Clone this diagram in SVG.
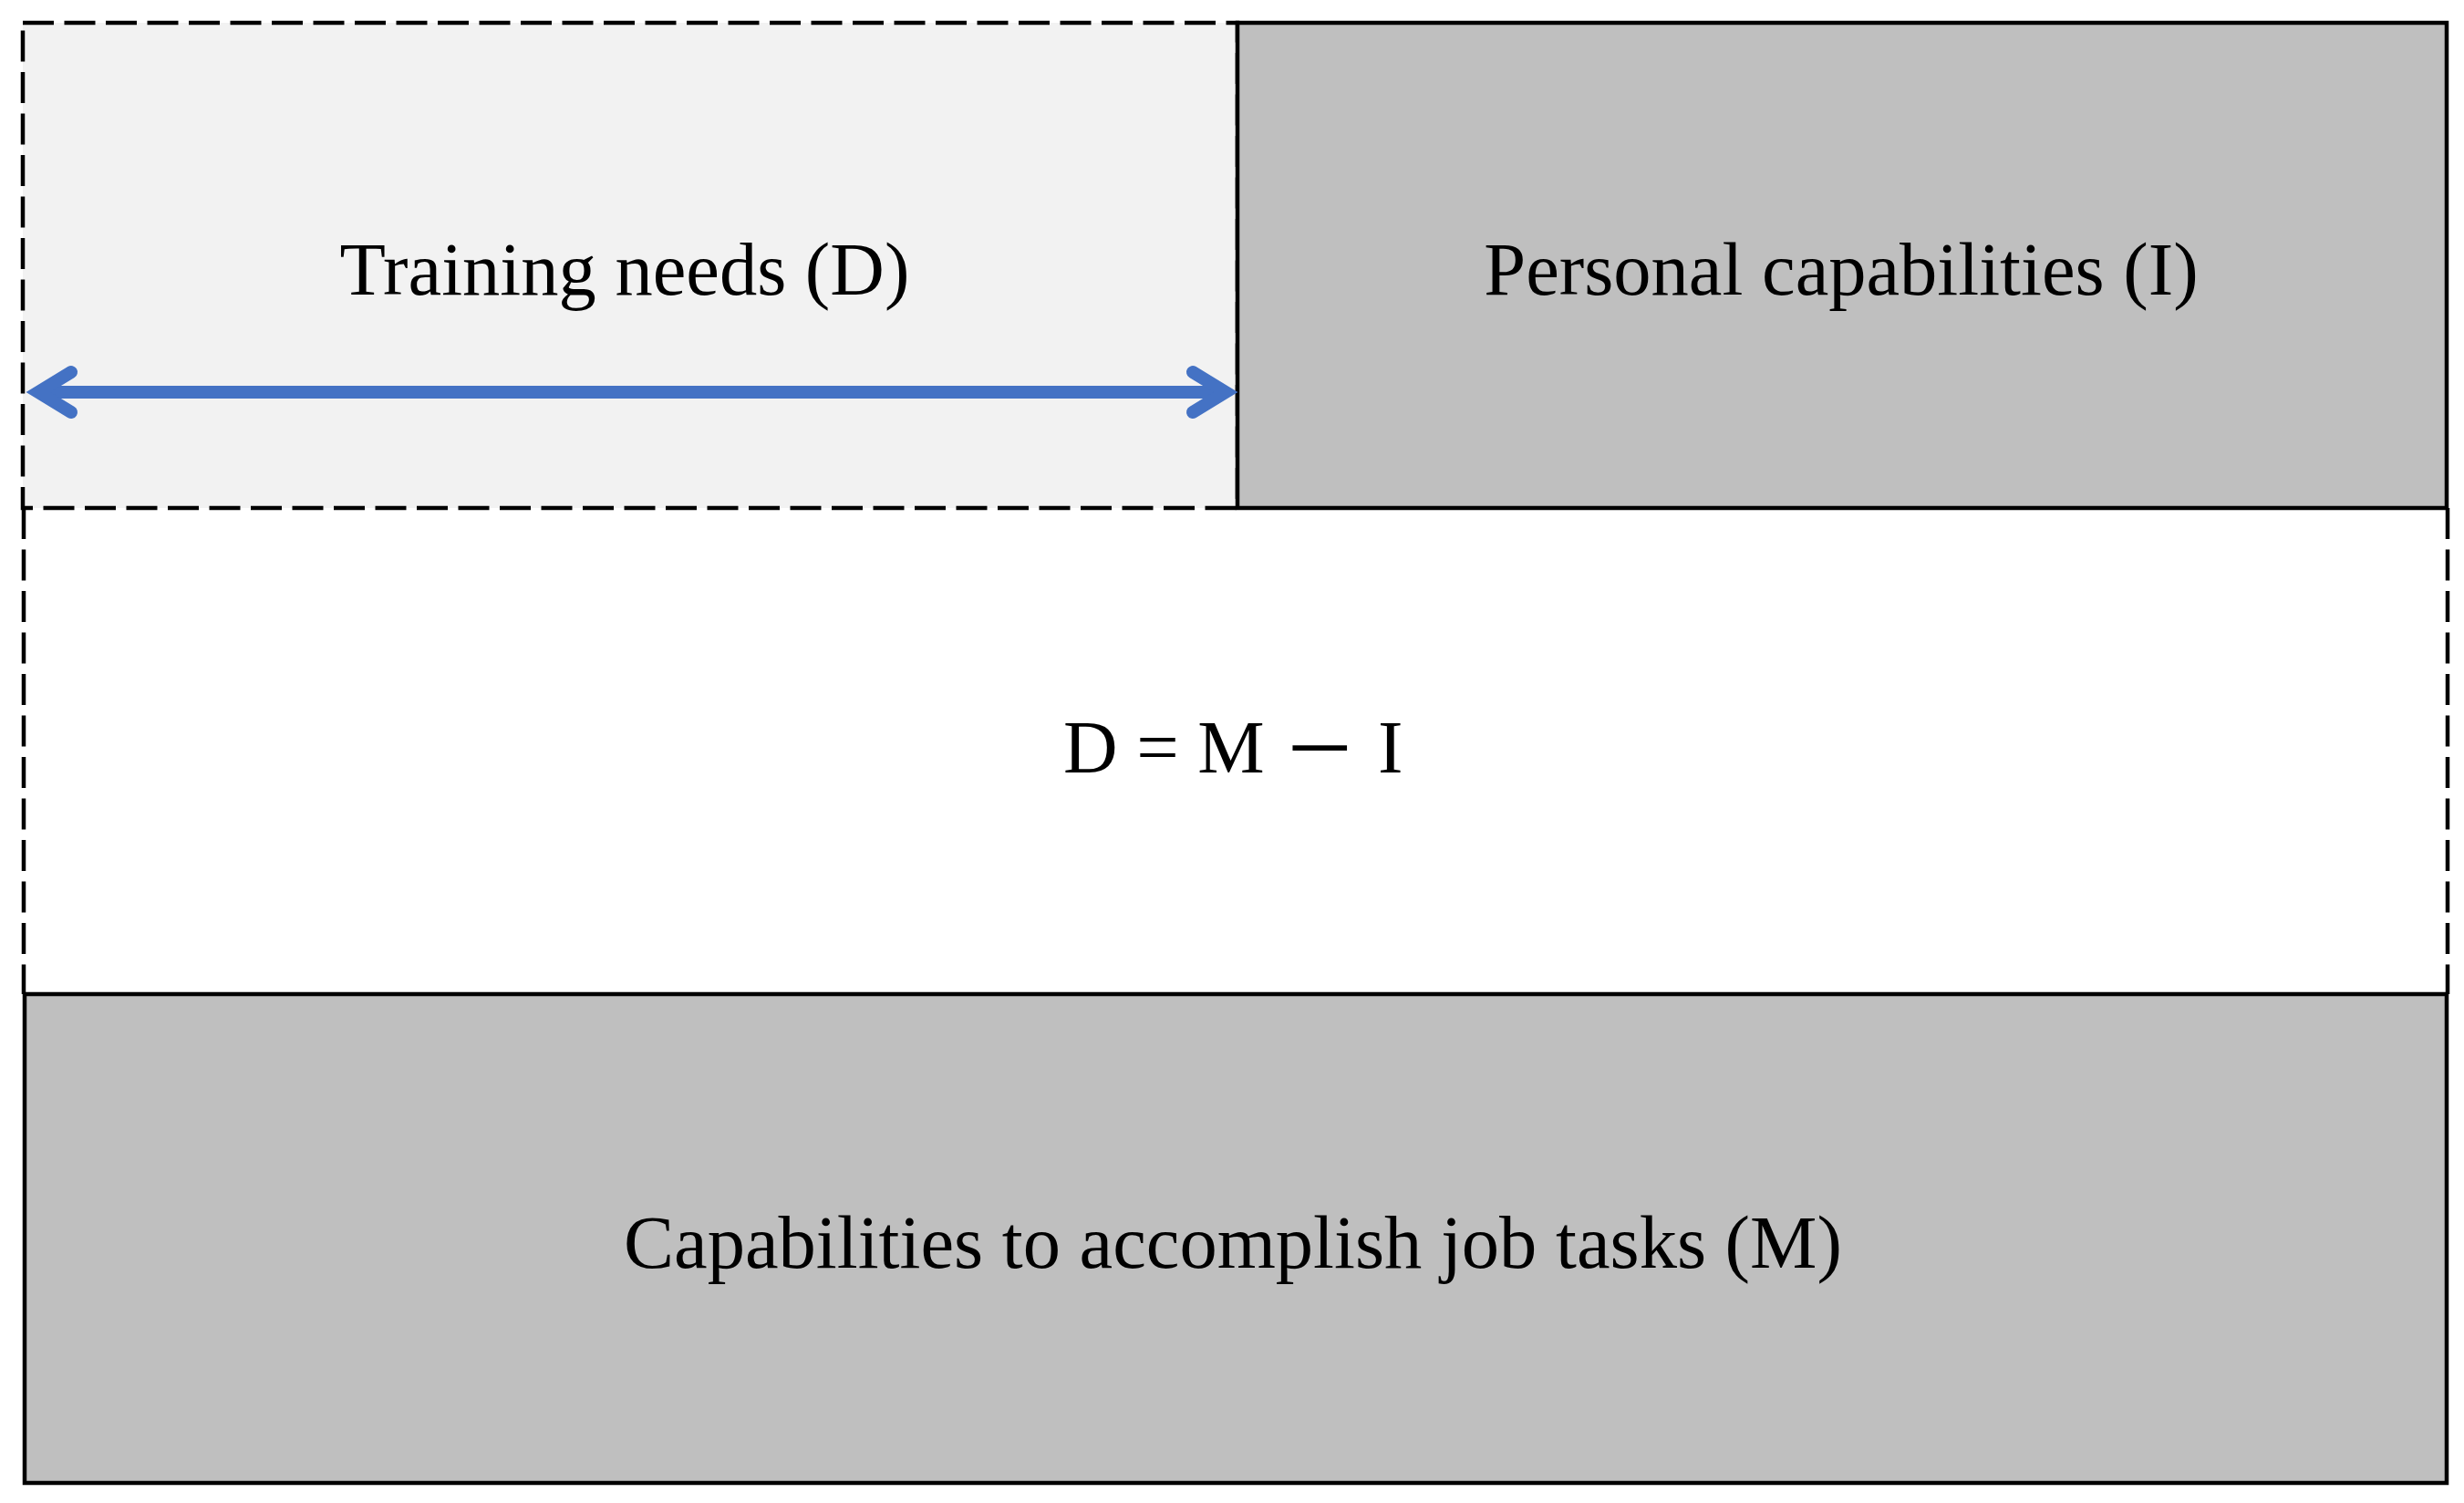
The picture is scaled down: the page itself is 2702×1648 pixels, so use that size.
<svg xmlns="http://www.w3.org/2000/svg" width="2702" height="1648" viewBox="0 0 2702 1648">
<style>
.dash{fill:none;stroke:#000;stroke-width:4.5;stroke-dasharray:34 11.5}
.solid{stroke:#000;stroke-width:4.5}
.lbl{font-family:"Liberation Serif","Times New Roman",serif;font-size:82.5px;fill:#000;text-anchor:middle}
.arrow{fill:none;stroke:#4472C4;stroke-width:14}
</style>
<defs>
<marker id="head" markerUnits="userSpaceOnUse" viewBox="-60 -40 80 80" markerWidth="80" markerHeight="80" refX="0" refY="0" orient="auto-start-reverse" overflow="visible">
<path d="M-36,-22 L0,0 L-36,22" fill="none" stroke="#4472C4" stroke-width="14" stroke-linecap="round" stroke-linejoin="miter" stroke-miterlimit="10"/>
</marker>
</defs>
<rect x="0" y="0" width="2702" height="1648" fill="#fff"/>
<g id="gap-region">
<rect x="26" y="557" width="2658" height="533" fill="#fff"/>
<path class="dash" d="M26,557 V1090 M2684,557 V1090"/>
<text class="lbl" style="text-anchor:start" x="1166" y="847">D = M <tspan dx="11" font-size="116">–</tspan><tspan dx="14"> I</tspan></text>
</g>
<g id="training-needs">
<rect class="dash" x="25" y="25" width="1332" height="532" style="fill:#F2F2F2"/>
<text class="lbl" x="685" y="323">Training needs (D)</text>
</g>
<g id="personal-capabilities">
<rect class="solid" x="1357" y="25" width="1326" height="532" fill="#BFBFBF"/>
<text class="lbl" x="2019" y="323">Personal capabilities (I)</text>
</g>
<g id="job-capabilities">
<rect class="solid" x="27" y="1090" width="2656" height="536" fill="#BFBFBF"/>
<text class="lbl" x="1352" y="1390">Capabilities to accomplish job tasks (M)</text>
</g>
<g id="connectors">
<line class="arrow" x1="42" y1="430" x2="1344" y2="430" marker-start="url(#head)" marker-end="url(#head)"/>
</g>
</svg>
